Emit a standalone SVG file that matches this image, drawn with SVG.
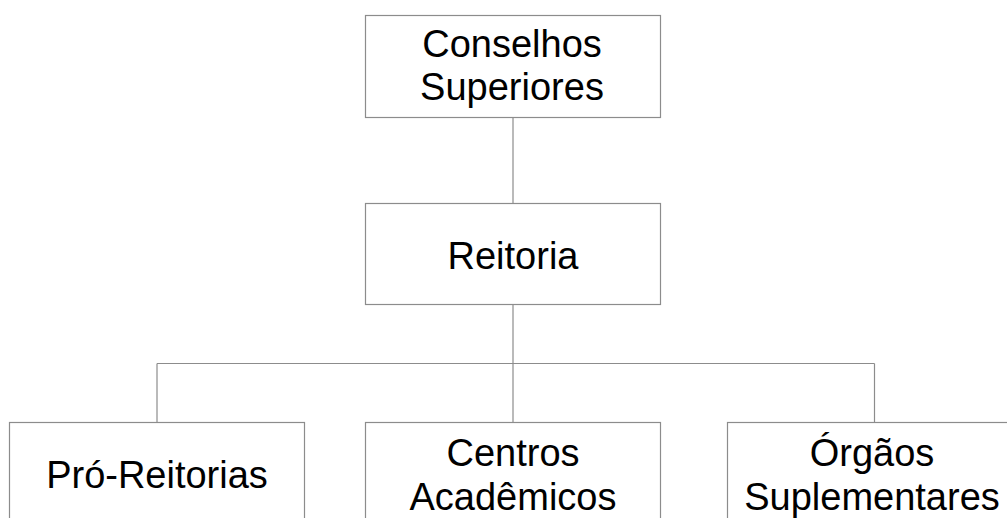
<svg xmlns="http://www.w3.org/2000/svg" width="1007" height="518" viewBox="0 0 1007 518">
<style>
.box{fill:#ffffff;stroke:#8c8c8c;stroke-width:1.2}
.lbl{font-family:"Liberation Sans",Arial,sans-serif;font-size:38px;fill:#000000;text-anchor:middle}
.conn{stroke:#8c8c8c;stroke-width:1.2;fill:none}
</style>
<rect width="1007" height="518" fill="#ffffff"/>
<g id="connectors">
<line class="conn" x1="513" y1="117" x2="513" y2="203"/>
<line class="conn" x1="513" y1="304" x2="513" y2="422"/>
<line class="conn" x1="157" y1="363.5" x2="874.5" y2="363.5"/>
<line class="conn" x1="157" y1="363.5" x2="157" y2="422"/>
<line class="conn" x1="874.5" y1="363.5" x2="874.5" y2="422"/>
</g>
<g id="conselhos">
<rect class="box" x="365.5" y="15.5" width="295" height="102"/>
<text class="lbl" x="512" y="57">Conselhos</text>
<text class="lbl" x="512" y="100">Superiores</text>
</g>
<g id="reitoria">
<rect class="box" x="365.5" y="203.5" width="295" height="101"/>
<text class="lbl" x="513" y="269">Reitoria</text>
</g>
<g id="proreitorias">
<rect class="box" x="9.5" y="422.5" width="295" height="110"/>
<text class="lbl" x="157" y="488">Pró-Reitorias</text>
</g>
<g id="centros">
<rect class="box" x="365.5" y="422.5" width="295" height="110"/>
<text class="lbl" x="513" y="466">Centros</text>
<text class="lbl" x="513" y="510">Acadêmicos</text>
</g>
<g id="orgaos">
<rect class="box" x="727.5" y="422.5" width="295" height="110"/>
<text class="lbl" x="872" y="466">Órgãos</text>
<text class="lbl" x="872" y="510">Suplementares</text>
</g>
</svg>
